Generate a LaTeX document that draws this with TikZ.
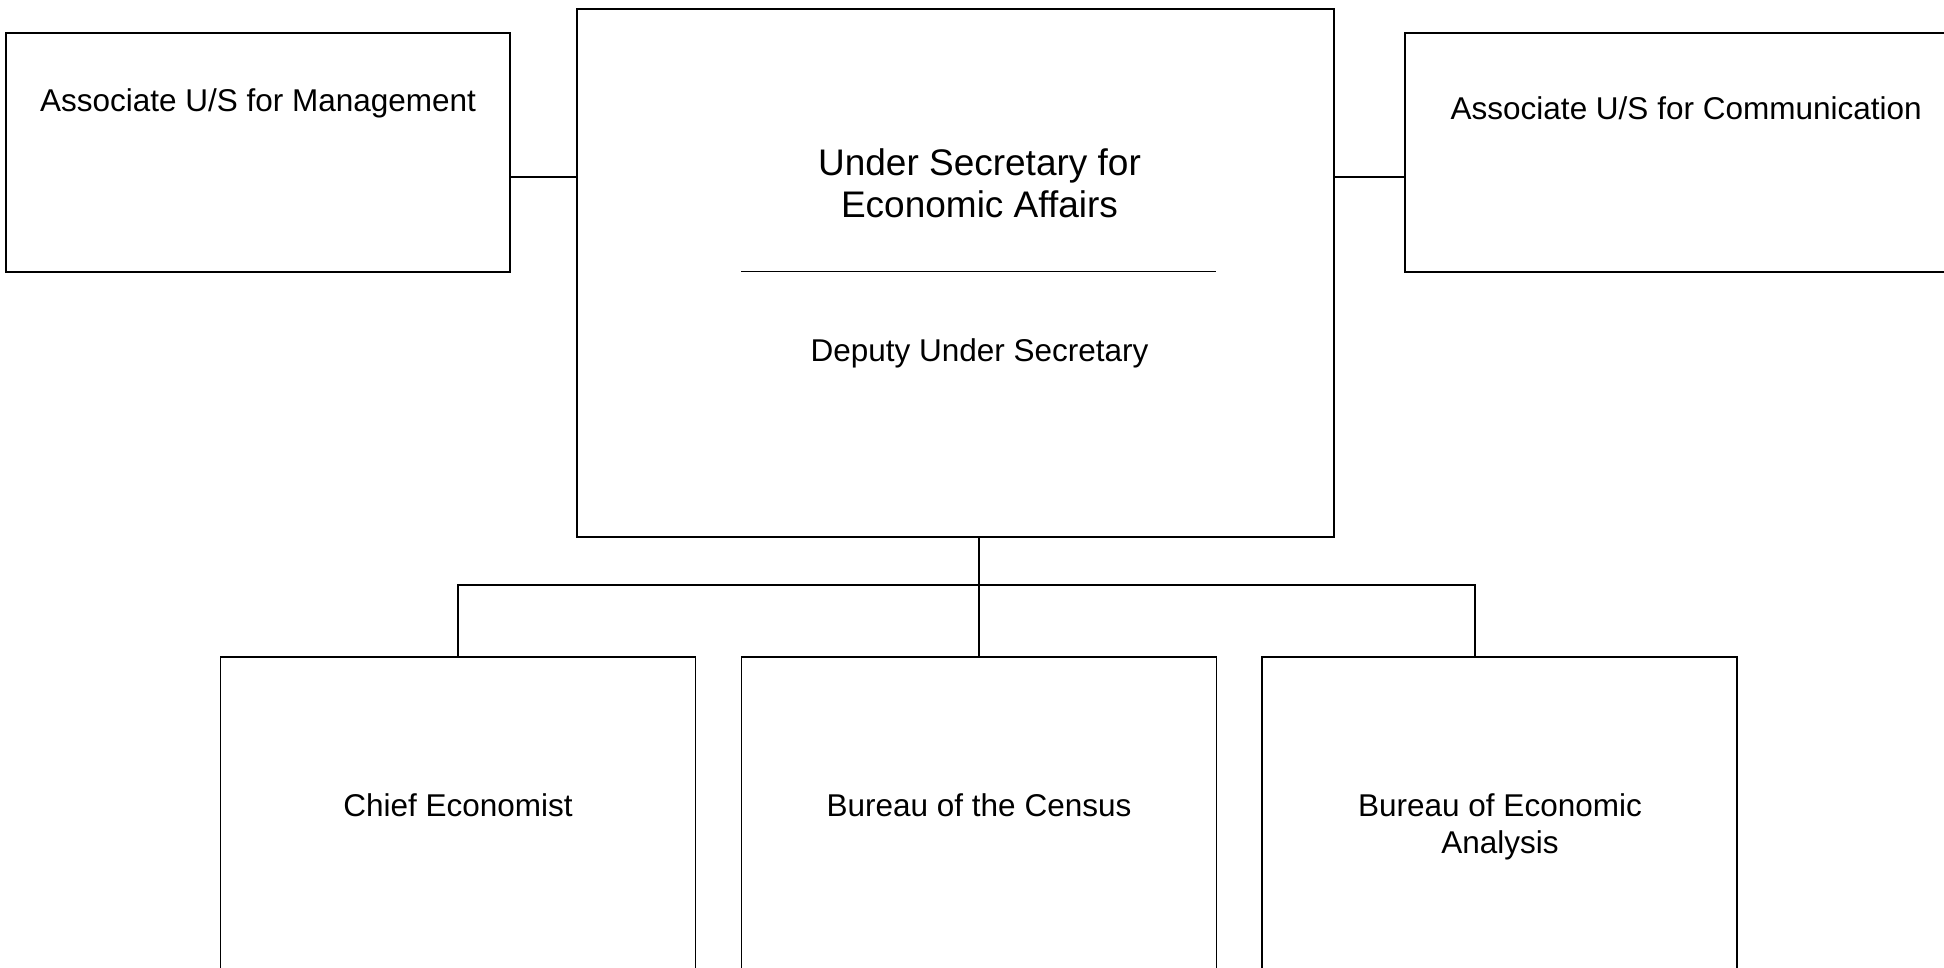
\documentclass[tikz,border=0pt]{standalone}
\usepackage{fontspec}
\setmainfont{Liberation Sans}
\begin{document}
\begin{tikzpicture}[x=1pt,y=-1pt,
  box/.style={draw=black,line width=1.8pt,rectangle,inner sep=0pt,fill=white},
  conn/.style={draw=black,line width=1.6pt},
  lbl/.style={inner sep=0pt,anchor=base,font=\fontsize{31.5}{37}\selectfont},
  ttl/.style={inner sep=0pt,anchor=base,font=\fontsize{37}{42}\selectfont}]
\fill[white] (0,0) rectangle (1944,968);
\useasboundingbox (0,0) rectangle (1944,968);
\clip (0,0) rectangle (1944,968);
% boxes
\node[box,minimum width=504pt,minimum height=239pt] (lm) at (258,152.5) {};
\node[box,minimum width=757pt,minimum height=528pt] (us) at (955.5,273) {};
\node[box,minimum width=695pt,minimum height=239pt] (rc) at (1752.5,152.5) {};
\node[box,minimum width=475pt,minimum height=443pt] (ce) at (458,878.5) {};
\node[box,minimum width=475pt,minimum height=443pt] (cb) at (979,878.5) {};
\node[box,minimum width=475pt,minimum height=443pt] (bea) at (1499.5,878.5) {};
% texts
\node[lbl] (tlm) at (258,111.5) {Associate U/S for Management};
\node[lbl,anchor=base west] (trc) at (1450.5,120) {Associate U/S for Communication};
\node[ttl] (tus1) at (979.5,176) {Under Secretary for};
\node[ttl] (tus2) at (979.5,218) {Economic Affairs};
\node[lbl] (tdu) at (979.5,361) {Deputy Under Secretary};
\node[lbl] (tce) at (458,816) {Chief Economist};
\node[lbl] (tcb) at (979,816) {Bureau of the Census};
\node[lbl] (tbea1) at (1500,816) {Bureau of Economic};
\node[lbl] (tbea2) at (1500,853) {Analysis};
% separator
\coordinate (s1) at (741,271.5);
\coordinate (s2) at (1216,271.5);
\draw[line width=1.6pt] (s1) -- (s2);
% connectors
\coordinate (hy) at (0,177);
\coordinate (bar) at (0,585);
\coordinate (br) at (1475,585);
\draw[conn] (lm.east |- hy) -- (us.west |- hy);
\draw[conn] (us.east |- hy) -- (rc.west |- hy);
\draw[conn] (us.south -| cb.north) -- (cb.north);
\draw[conn] (ce.north) -- (ce.north |- bar) -- (br) -- (br |- bea.north);
\end{tikzpicture}
\end{document}
